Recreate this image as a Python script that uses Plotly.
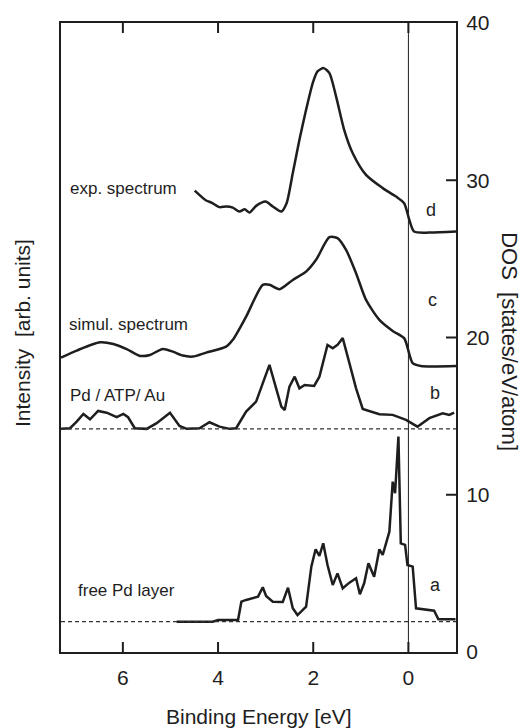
import plotly.graph_objects as go

# ---------------- data ----------------
exp_E = [4.49, 4.25, 4.14, 3.97, 3.83, 3.69, 3.55, 3.44, 3.34, 3.20, 3.00, 2.85,
         2.67, 2.56, 2.43, 2.29, 2.15, 2.01, 1.91, 1.78, 1.66, 1.52, 1.35, 1.17,
         0.89, 0.54, 0.26, 0.09, -0.02, -0.12, -0.44, -1.0]
exp_I = [29.34, 28.71, 28.58, 28.29, 28.33, 28.26, 28.01, 28.16, 27.95, 28.37, 28.65, 28.33,
         28.01, 28.54, 30.45, 32.57, 34.48, 36.18, 36.92, 37.13, 36.81, 35.33, 33.21, 31.72,
         30.34, 29.50, 28.96, 28.54, 27.48, 26.74, 26.67, 26.74]

sim_E = [7.30, 6.97, 6.48, 6.20, 5.92, 5.64, 5.43, 5.16, 4.95, 4.74, 4.53, 4.25,
         3.83, 3.69, 3.41, 3.06, 2.92, 2.71, 2.43, 2.15, 1.94, 1.66, 1.49, 1.31,
         1.10, 0.89, 0.61, 0.33, 0.09, -0.09, -0.26, -1.0]
sim_I = [18.72, 19.17, 19.70, 19.59, 19.26, 18.83, 18.89, 19.27, 19.10, 18.85, 18.79, 19.04,
         19.42, 19.85, 21.33, 23.35, 23.35, 23.07, 23.66, 24.19, 24.94, 26.38, 26.32, 25.57,
         24.09, 22.39, 21.12, 20.42, 19.96, 18.37, 18.19, 18.19]

pdatp_E = [7.30, 7.11, 6.97, 6.83, 6.69, 6.52, 6.34, 6.13, 5.99, 5.89, 5.75, 5.50,
           5.29, 5.01, 4.81, 4.66, 4.39, 4.18, 3.97, 3.76, 3.62, 3.41, 3.20, 2.92,
           2.67, 2.60, 2.50, 2.39, 2.29, 2.18, 1.98, 1.87, 1.70, 1.59, 1.49, 1.38,
           1.24, 1.10, 0.96, 0.61, 0.33, 0.05, -0.19, -0.44, -0.72, -0.86, -0.96]
pdatp_D = [14.19, 14.23, 14.65, 15.14, 14.80, 15.33, 15.22, 14.93, 15.14, 14.93, 14.23, 14.19,
           14.55, 15.22, 14.38, 14.19, 14.23, 14.61, 14.33, 14.19, 14.23, 15.29, 15.92, 18.26,
           15.60, 15.39, 16.88, 17.51, 16.77, 16.98, 16.92, 17.51, 19.53, 19.32, 19.53, 19.96,
           18.37, 16.77, 15.46, 15.12, 15.08, 14.76, 14.33, 14.87, 15.18, 15.08, 15.22]

free_E = [4.87, 4.11, 4.00, 3.58, 3.51, 3.41, 3.16, 3.06, 2.99, 2.85, 2.64, 2.53,
          2.43, 2.33, 2.15, 2.04, 1.95, 1.87, 1.79, 1.70, 1.59, 1.49, 1.38, 1.24,
          1.10, 1.02, 0.93, 0.84, 0.72, 0.61, 0.54, 0.40, 0.33, 0.28, 0.21, 0.16,
          0.07, 0.02, -0.09, -0.16, -0.54, -0.63, -0.99]
free_D = [1.93, 1.93, 2.04, 2.04, 3.20, 3.31, 3.52, 4.12, 3.56, 3.20, 3.18, 4.09,
          2.78, 2.35, 2.88, 5.43, 6.53, 6.11, 6.91, 5.53, 4.26, 5.00, 4.05, 4.41,
          4.69, 3.67, 4.37, 5.64, 4.79, 6.53, 6.17, 7.65, 10.83, 10.10, 13.70, 6.91,
          6.81, 5.53, 5.43, 2.78, 2.63, 2.08, 2.08]

baselines = [1.93, 14.19]          # zero levels of the two DOS curves
fermi_level = [0.0]
x_ticks = [6, 4, 2, 0]
y_ticks = [0, 10, 20, 30, 40]
x_range = [7.3, -1.0]
y_range = [0, 40]

curve_labels = ["exp. spectrum", "simul. spectrum", "Pd / ATP/ Au", "free Pd layer"]
curve_letters = ["d", "c", "b", "a"]

# ---------------- figure ----------------
FONT = "Liberation Sans, Arial, Helvetica, sans-serif"
INK = "#1e1e1e"
W, H = 523, 728
M = dict(l=61, r=67, t=23, b=76)
TICKLEN_PX = 10
plot_w = W - M["l"] - M["r"]
plot_h = H - M["t"] - M["b"]
# tick length expressed in axis units (derived from the ranges)
tx = TICKLEN_PX * abs(x_range[1] - x_range[0]) / plot_w
ty = TICKLEN_PX * abs(y_range[1] - y_range[0]) / plot_h

fig = go.Figure()
curves = [(exp_E, exp_I, "spline"), (sim_E, sim_I, "spline"),
          (pdatp_E, pdatp_D, "linear"), (free_E, free_D, "linear")]
for xs, ys, shp in curves:
    ln = dict(color=INK, width=2.5, shape=shp)
    if shp == "spline":
        ln["smoothing"] = 0.7
    fig.add_trace(go.Scatter(x=xs, y=ys, mode="lines", line=ln,
                             showlegend=False, hoverinfo="skip"))

# inward tick marks drawn from the tick arrays (bottom + top for x, right for y)
tick_x, tick_y = [], []
for t in x_ticks:
    tick_x += [t, t, None, t, t, None]
    tick_y += [y_range[0], y_range[0] + ty, None, y_range[1], y_range[1] - ty, None]
for t in y_ticks[1:-1]:
    tick_x += [x_range[1], x_range[1] + tx, None]
    tick_y += [t, t, None]
fig.add_trace(go.Scatter(x=tick_x, y=tick_y, mode="lines",
                         line=dict(color=INK, width=2), showlegend=False,
                         hoverinfo="skip"))

for b in baselines:
    fig.add_shape(type="line", xref="paper", x0=0, x1=1, yref="y", y0=b, y1=b,
                  line=dict(color="#333", width=1.1, dash="4px,3px"))
for f in fermi_level:
    fig.add_shape(type="line", xref="x", x0=f, x1=f, yref="paper", y0=0, y1=1,
                  line=dict(color=INK, width=1))

label_pos = [(7.15, 29.45), (7.18, 20.8), (7.15, 16.3), (6.99, 3.94)]
for txt, (lx, ly) in zip(curve_labels, label_pos):
    fig.add_annotation(x=lx, y=ly, text=txt, showarrow=False, xanchor="left",
                       yanchor="middle", font=dict(family=FONT, size=17, color=INK))

letter_pos = [(-0.48, 28.1), (-0.50, 22.4), (-0.56, 16.5), (-0.56, 4.26)]
for txt, (lx, ly) in zip(curve_letters, letter_pos):
    fig.add_annotation(x=lx, y=ly, text=txt, showarrow=False, xanchor="center",
                       yanchor="middle", font=dict(family=FONT, size=18, color=INK))

fig.add_annotation(xref="paper", yref="paper", x=-0.099, y=0.507,
                   xanchor="center", yanchor="middle",
                   text="Intensity  [arb. units]", textangle=-90, showarrow=False,
                   font=dict(family=FONT, size=21, color=INK))
fig.add_annotation(xref="paper", yref="paper", x=1.137, y=0.494,
                   xanchor="center", yanchor="middle",
                   text="DOS  [states/eV/atom]", textangle=90, showarrow=False,
                   font=dict(family=FONT, size=22, color=INK))
fig.add_annotation(xref="paper", yref="paper", x=0.5, y=-0.102,
                   text="Binding Energy [eV]", showarrow=False, yanchor="middle",
                   font=dict(family=FONT, size=21, color=INK))

fig.update_layout(
    width=W, height=H,
    margin=dict(**M, autoexpand=False),
    paper_bgcolor="white", plot_bgcolor="white",
    font=dict(family=FONT, size=21, color=INK),
    xaxis=dict(range=x_range, tickvals=x_ticks, side="bottom", ticks="",
               showline=True, linecolor=INK, linewidth=2, mirror=True,
               showgrid=False, zeroline=False, automargin=False,
               ticklabelstandoff=6, tickfont=dict(family=FONT, size=21)),
    yaxis=dict(range=y_range, tickvals=y_ticks, side="right", ticks="",
               showline=True, linecolor=INK, linewidth=2, mirror=True,
               showgrid=False, zeroline=False, automargin=False,
               ticklabelstandoff=4, tickfont=dict(family=FONT, size=21)),
)

fig.write_html("out.html")
